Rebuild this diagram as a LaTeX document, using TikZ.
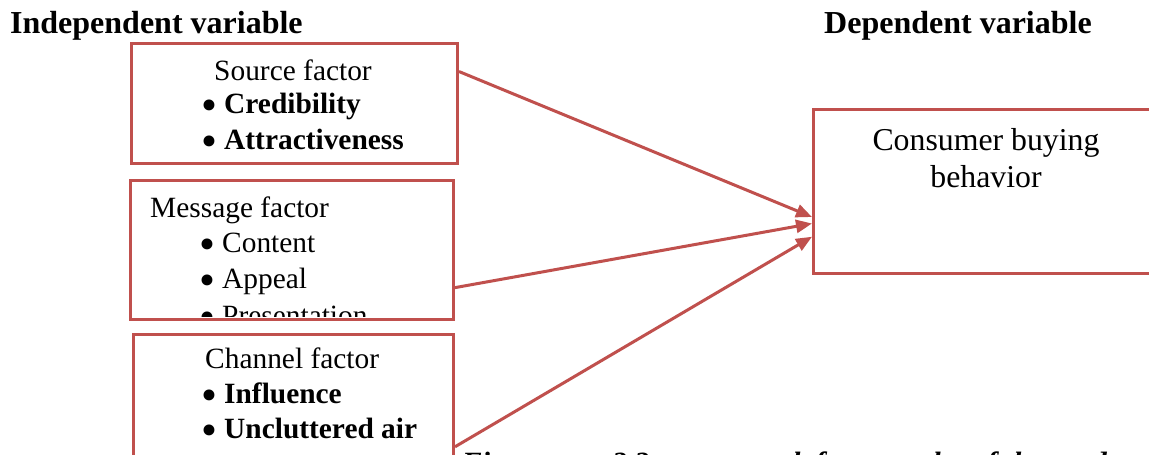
\documentclass[tikz,border=0pt]{standalone}
\usepackage{fontspec}
\setmainfont{Liberation Serif}
\usetikzlibrary{arrows.meta}
\definecolor{boxred}{HTML}{C0504D}
\newcommand{\bodyfont}{\fontsize{29.4}{35}\selectfont}
\newcommand{\bitem}[2][23pt]{\makebox[#1][l]{\smash{\raisebox{-7.5pt}{\scalebox{1.55}{\textbullet}}}}#2}
\begin{document}
\begin{tikzpicture}[x=1pt,y=-1pt,
  fbox/.style={draw=boxred, line width=3pt, rectangle, inner sep=0pt, anchor=north west},
  txt/.style={inner sep=0pt, anchor=base west, font=\bodyfont},
  captxt/.style={inner sep=0pt, anchor=base west, font=\bodyfont\bfseries\itshape},
  ctxt/.style={inner sep=0pt, anchor=base, font=\fontsize{31.8}{37}\selectfont},
  head/.style={inner sep=0pt, anchor=base west, font=\fontsize{32}{36}\selectfont\bfseries},
  arr/.style={draw=boxred, line width=3pt, -{Triangle[length=16pt,width=13pt]}}]
\useasboundingbox (0,0) rectangle (1149,455);
\fill[white] (0,0) rectangle (1149,455);
% headers
\node[head] (hind) at (10,33) {Independent variable};
\node[head] (hdep) at (824,33) {Dependent variable};
% boxes
\node[fbox, minimum width=326pt, minimum height=120pt] (src) at (130,42) {};
\node[fbox, minimum width=323pt, minimum height=139pt] (msg) at (129,179) {};
\node[fbox, minimum width=320pt, minimum height=150pt] (chn) at (132,333) {};
\node[fbox, minimum width=360pt, minimum height=164pt] (cons) at (812,108) {};
% source text
\node[txt, anchor=base] (srct) at (293,80) {Source factor};
\node[txt] (src1) at (201,113) {\bitem{\bfseries Credibility}};
\node[txt] (src2) at (201,149) {\bitem{\bfseries Attractiveness}};
% message text
\node[txt] (msgt) at (150,217) {Message factor};
\node[txt] (msg1) at (199,252) {\bitem{Content}};
\node[txt] (msg2) at (199,288) {\bitem{Appeal}};
\begin{scope}
\clip (131,181) rectangle (450,316.5);
\node[txt] (msg3) at (199,325) {\bitem{Presentation}};
\end{scope}
% channel text
\node[txt] (chnt) at (205,368) {Channel factor};
\node[txt] (chn1) at (201,403) {\bitem{\bfseries Influence}};
\node[txt] (chn2) at (201,438) {\bitem{\bfseries Uncluttered air}};
% consumer text
\node[ctxt] (cons1) at (986,150) {Consumer buying};
\node[ctxt] (cons2) at (986,187) {behavior};
% caption (cut off at the lower edge)
\node[captxt] (cap1) at (462,472) {Figure};
\node[captxt] (cap2) at (612,472) {2.2};
\node[captxt] (cap3) at (668,472) {conceptual};
\node[captxt] (cap4) at (815,472) {framework};
\node[captxt] (cap5) at (972,472) {of};
\node[captxt] (cap6) at (1005,472) {the};
\node[captxt] (cap7) at (1056,472) {study};
% arrows
\draw[arr] (src.11.8) -- (cons.188.1);
\draw[arr] (msg.347.9) -- (cons.190.6);
\draw[arr] (chn.347.3) -- (cons.194.6);
\end{tikzpicture}
\end{document}
